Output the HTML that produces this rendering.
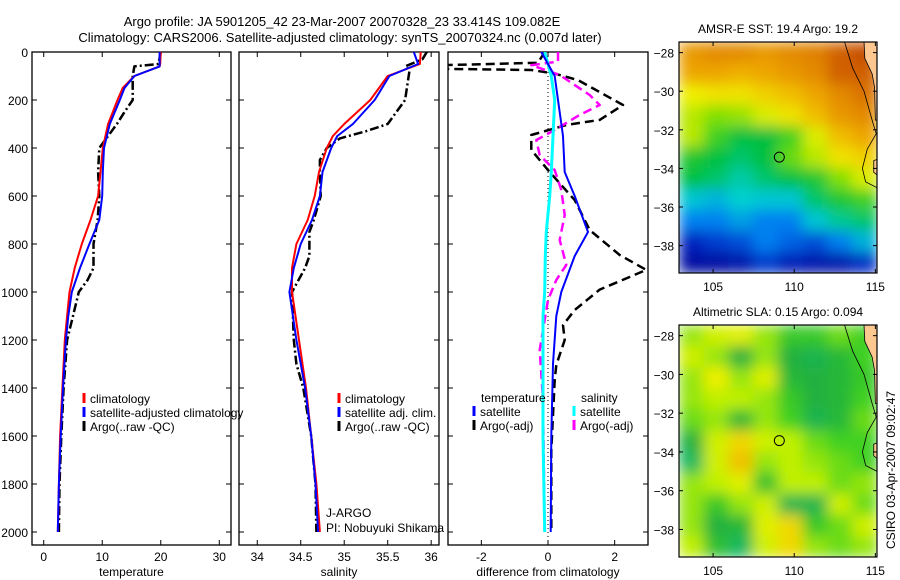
<!DOCTYPE html>
<html><head><meta charset="utf-8"><style>
body{margin:0;background:#fff}
svg{display:block;font-family:"Liberation Sans",sans-serif;font-size:12px}
</style></head><body>
<svg id="fig" width="900" height="580" viewBox="0 0 900 580">
<defs>
<filter id="blur" x="0" y="0" width="100%" height="100%"><feGaussianBlur stdDeviation="7" edgeMode="duplicate"/></filter>
<clipPath id="clipM1"><rect x="679" y="42" width="198" height="231"/></clipPath>
<clipPath id="clipM2"><rect x="679" y="325" width="198" height="232"/></clipPath>
<clipPath id="clipP3"><rect x="448" y="52" width="200" height="493"/></clipPath>
</defs>
<text x="342" y="26" text-anchor="middle" font-size="13">Argo profile: JA 5901205_42 23-Mar-2007 20070328_23 33.414S 109.082E</text>
<text x="340" y="42" text-anchor="middle" font-size="13">Climatology: CARS2006. Satellite-adjusted climatology: synTS_20070324.nc (0.007d later)</text>
<g id="layer"></g>
</svg>
<script>
// ---- data ----
const depthTicks=[0,200,400,600,800,1000,1200,1400,1600,1800,2000];
const tempTicks=[0,10,20,30];
const salTicks=[34,34.5,35,35.5,36];
const salTickLabels=["34","34.5","35","35.5","36"];
const diffTicks=[-2,0,2];

const tDepth=[0,50,60,100,150,200,300,400,500,600,700,800,900,1000,1100,1200,1400,1600,1800,2000];
const tClim=[20,19.9,19.8,15.5,13.5,12.6,11,10.1,9.7,9.3,8,6.5,5.3,4.4,4,3.6,3.2,2.8,2.6,2.4];
const tSat=[19.8,19.8,19.8,15.5,13.8,13.0,11.3,10.3,10.1,10,9.5,7.8,6.2,4.8,4.2,3.8,3.3,2.9,2.6,2.4];
const aDepth=[0,50,60,100,200,250,300,350,400,500,600,700,800,900,950,1000,1100,1200,1400,1600,1800,2000];
const tArgo=[20,19.6,15.5,15.2,15.2,13.8,12.5,11,9.5,9.3,9.5,9.2,8.5,8.5,7.5,6,5,4,3.4,3,2.7,2.6];

const sDepth=[0,50,100,200,300,350,400,500,600,700,800,900,1000,1200,1400,1600,1800,2000];
const sClim=[35.88,35.87,35.5,35.3,35.0,34.87,34.8,34.71,34.66,34.58,34.45,34.4,34.4,34.48,34.56,34.62,34.68,34.72];
const sSat=[35.8,35.85,35.52,35.35,35.1,34.92,34.85,34.75,34.72,34.63,34.5,34.42,34.37,34.45,34.55,34.62,34.67,34.7];
const saDepth=[0,30,60,80,200,300,330,360,400,450,500,600,700,750,850,900,1000,1200,1300,1400,1600,1800,2000];
const sArgo=[35.95,35.9,35.7,35.75,35.7,35.5,35.25,34.95,34.8,34.72,34.72,34.73,34.65,34.6,34.6,34.55,34.4,34.42,34.45,34.53,34.62,34.67,34.68];

const dDepth=[0,50,100,200,350,500,600,750,850,1000,1100,1300,1600,2000];
const dTempSat=[-0.2,0,0.2,0.3,0.45,0.5,0.8,1.2,0.8,0.4,0.25,0.15,0.1,0.08];
const dSalSat=[-0.1,0,0.1,0.2,0.15,0.1,0.05,-0.05,-0.08,-0.1,-0.15,-0.15,-0.15,-0.1];
const dtaDepth=[0,45,55,70,75,90,117,221,283,304,346,408,492,617,742,846,908,990,1075,1138,1200,1304,1367,1658,2000];
const dTempArgo=[-0.1,-0.3,-3.2,-3.2,-0.5,0.2,0.9,2.25,1.55,0.55,-0.5,-0.5,0,0.8,1.25,2.15,2.95,1.55,0.8,0.45,0.5,0.25,0.2,0.1,0.1];
const dsaDepth=[0,40,55,96,179,221,262,325,367,429,492,575,679,783,887,950,1033,1242,1450,2000];
const dSalArgo=[0.3,0.3,-0.5,0.35,1.25,1.55,0.95,0.2,-0.35,-0.25,0.2,0.4,0.5,0.35,0.55,0.25,0,-0.25,-0.15,-0.1];

const lonTicks=[105,110,115];
const latTicks=[-28,-30,-32,-34,-36,-38];
const sstGrid=[
[0.75,0.78,0.78,0.75,0.78,0.8,0.85,0.88],
[0.72,0.72,0.7,0.72,0.75,0.78,0.85,0.85],
[0.6,0.62,0.62,0.65,0.68,0.72,0.78,0.82],
[0.55,0.5,0.52,0.58,0.62,0.68,0.75,0.78],
[0.55,0.45,0.4,0.4,0.45,0.58,0.68,0.72],
[0.42,0.4,0.38,0.4,0.48,0.55,0.62,0.65],
[0.4,0.38,0.35,0.38,0.4,0.42,0.5,0.58],
[0.32,0.3,0.33,0.32,0.32,0.38,0.42,0.45],
[0.25,0.25,0.28,0.25,0.25,0.32,0.36,0.38],
[0.15,0.18,0.2,0.25,0.22,0.2,0.25,0.3],
[0.08,0.08,0.1,0.18,0.13,0.1,0.1,0.16]];
const slaGrid=[
[0.6,0.7,0.75,0.6,0.45,0.45,0.55,0.5],
[0.7,0.6,0.3,0.6,0.3,0.25,0.35,0.5],
[0.6,0.8,0.6,0.75,0.35,0.3,0.35,0.45],
[0.6,0.65,0.65,0.6,0.45,0.3,0.35,0.5],
[0.55,0.6,0.35,0.6,0.5,0.25,0.35,0.55],
[0.3,0.7,0.85,0.7,0.65,0.55,0.5,0.5],
[0.2,0.7,0.9,0.6,0.65,0.6,0.55,0.5],
[0.6,0.65,0.75,0.4,0.65,0.65,0.55,0.6],
[0.6,0.45,0.6,0.7,0.25,0.25,0.7,0.55],
[0.6,0.3,0.35,0.75,0.85,0.45,0.55,0.7],
[0.65,0.4,0.2,0.7,0.85,0.6,0.55,0.6]];
const argoLon=109.082, argoLat=-33.414;

// ---- helpers ----
const NS="http://www.w3.org/2000/svg";
const layer=document.getElementById('layer');
function mk(tag,attrs,parent){const e=document.createElementNS(NS,tag);for(const k in attrs)e.setAttribute(k,attrs[k]);(parent||layer).appendChild(e);return e;}
function txt(x,y,s,anchor,parent){const t=mk('text',{x:x,y:y,'text-anchor':anchor||'start'},parent);t.textContent=s;return t;}
const yD=d=>52+d*0.24;

function panel(name,x0,x1,xmin,xmax,ticks,labels,xlabel,showY){
  const sx=v=>x0+(v-xmin)/(xmax-xmin)*(x1-x0);
  const g=mk('g',{});
  
  
  const r=mk('rect',{x:x0,y:52,width:x1-x0,height:493,fill:'none',stroke:'#000','stroke-width':1.3},g);
  
  
  ticks.forEach((v,i)=>{
    const X=sx(v);
    mk('line',{x1:X,x2:X,y1:52,y2:57,stroke:'#000'},g);
    mk('line',{x1:X,x2:X,y1:545,y2:540,stroke:'#000'},g);
    const t=txt(X,561,labels[i],'middle',g);
    
    
  });
  depthTicks.forEach(d=>{
    mk('line',{x1:x0,x2:x0+5,y1:yD(d),y2:yD(d),stroke:'#000'},g);
    mk('line',{x1:x1,x2:x1-5,y1:yD(d),y2:yD(d),stroke:'#000'},g);
    if(showY){const t=txt(x0-4,yD(d)+5,String(d),'end',g);
      
      }
  });
  const xl=txt((x0+x1)/2,576,xlabel,'middle',g);
  
  
  return sx;
}
function line(sx,depths,vals,color,w,dash,name,clip){
  const pts=depths.map((d,i)=>sx(vals[i]).toFixed(1)+','+yD(d).toFixed(1)).join(' ');
  const a={points:pts,fill:'none',stroke:color,'stroke-width':w,'stroke-linejoin':'round'};
  if(dash)a['stroke-dasharray']=dash;
  if(clip)a['clip-path']='url(#'+clip+')';
  const p=mk('polyline',a);
  
  
}
function legend(x,y,color,label,name){
  const l=mk('line',{x1:x,x2:x,y1:y-10,y2:y,stroke:color,'stroke-width':3});
  
  
  const t=txt(x+6,y,label);
  
  
}

// Panel 1
const sx1=panel('temperature-panel',32,231,-2,32,tempTicks,tempTicks.map(String),'temperature',true);
line(sx1,aDepth,tArgo,'#000',2.5,'9,3,2,3','argo-temperature-line');
line(sx1,tDepth,tClim,'#f00',2,null,'climatology-temperature-line');
line(sx1,tDepth,tSat,'#00f',2,null,'satellite-temperature-line');
legend(84,403,'#f00','climatology','legend-climatology');
legend(84,417,'#00f','satellite-adjusted climatology','legend-satellite');
legend(84,431,'#000','Argo(..raw -QC)','legend-argo');

// Panel 2
const sx2=panel('salinity-panel',239,439,33.79,36.09,salTicks,salTickLabels,'salinity',false);
line(sx2,saDepth,sArgo,'#000',2.5,'9,3,2,3','argo-salinity-line');
line(sx2,sDepth,sClim,'#f00',2,null,'climatology-salinity-line');
line(sx2,sDepth,sSat,'#00f',2,null,'satellite-salinity-line');
legend(339,403,'#f00','climatology','legend-climatology-sal');
legend(339,417,'#00f','satellite adj. clim.','legend-satellite-sal');
legend(339,431,'#000','Argo(..raw -QC)','legend-argo-sal');
const j1=txt(326,517,'J-ARGO');
const j2=txt(326,532,'PI: Nobuyuki Shikama');

// Panel 3
const sx3=panel('difference-panel',448,648,-3,3,diffTicks,diffTicks.map(String),'difference from climatology',false);
const zl=mk('line',{x1:sx3(0),x2:sx3(0),y1:52,y2:545,stroke:'#000','stroke-dasharray':'1,3'});


line(sx3,dtaDepth,dTempArgo,'#000',2.5,'9,5','argo-temp-diff-line','clipP3');
line(sx3,dsaDepth,dSalArgo,'#f0f',2.5,'9,5','argo-sal-diff-line','clipP3');
line(sx3,dDepth,dSalSat,'#0ff',3,null,'satellite-sal-diff-line','clipP3');
line(sx3,dDepth,dTempSat,'#00f',2,null,'satellite-temp-diff-line','clipP3');
const lt=txt(481,402,'temperature');
const ls=txt(581,402,'salinity');
legend(474,416,'#00f','satellite','legend-temp-satellite');
legend(474,430,'#000','Argo(-adj)','legend-temp-argo');
legend(574,416,'#0ff','satellite','legend-sal-satellite');
legend(574,430,'#f0f','Argo(-adj)','legend-sal-argo');

// ---- maps ----
function cmap(stops,v){
  for(let i=1;i<stops.length;i++){if(v<=stops[i][0]){const a=stops[i-1],b=stops[i],t=(v-a[0])/(b[0]-a[0]);
    return 'rgb('+[0,1,2].map(k=>Math.round(a[1][k]+(b[1][k]-a[1][k])*t)).join(',')+')';}}
  const l=stops[stops.length-1][1];return 'rgb('+l.join(',')+')';
}
const sstStops=[[0,[0,0,128]],[0.15,[0,32,192]],[0.25,[0,128,240]],[0.33,[0,208,208]],[0.4,[0,192,64]],[0.5,[128,224,0]],[0.6,[240,240,0]],[0.7,[240,176,0]],[0.8,[224,128,0]],[0.9,[192,64,0]],[1,[160,0,0]]];
const slaStops=[[0,[0,200,160]],[0.3,[32,176,64]],[0.5,[64,208,32]],[0.65,[192,240,0]],[0.8,[240,240,0]],[0.9,[240,192,0]],[1,[240,144,0]]];

function map(name,x0,y0,w,h,grid,stops,title,clip){
  const lon=v=>x0+(v-102.9)/(115.1-102.9)*w;
  const lat=v=>y0+(-27.45-v)/(-27.45+39.42)*h;
  const g=mk('g',{'clip-path':'url(#'+clip+')'});
  
  
  const hg=mk('g',{filter:'url(#blur)'},g);
  const rows=grid.length,cols=grid[0].length;
  grid.forEach((row,r)=>row.forEach((v,c)=>{
    const cell=mk('rect',{x:x0+c*w/cols,y:y0+r*h/rows,width:w/cols+1,height:h/rows+1,fill:cmap(stops,v)},hg);
    
    
  }));
  const land=mk('path',{d:`M${lon(114.3)},${lat(-27.45)} L${lon(114.35)},${lat(-28.3)} L${lon(114.8)},${lat(-29.1)} L${lon(114.95)},${lat(-29.8)} L${lon(115.0)},${lat(-31.5)} L${lon(115.2)},${lat(-31.5)} L${lon(115.2)},${lat(-27.45)} Z M${lon(114.9)},${lat(-33.6)} L${lon(115.2)},${lat(-33.5)} L${lon(115.2)},${lat(-34.4)} L${lon(114.9)},${lat(-34.2)} Z`,fill:'#fcc890',stroke:'#000','stroke-width':0.8},g);
  
  
  const iso=mk('path',{d:`M${lon(113.1)},${lat(-27.45)} L${lon(113.6)},${lat(-28.8)} L${lon(114.3)},${lat(-30)} L${lon(114.8)},${lat(-31.5)} L${lon(115.05)},${lat(-32.2)} L${lon(114.5)},${lat(-33)} L${lon(114.2)},${lat(-34)} L${lon(114.4)},${lat(-34.7)} L${lon(115.1)},${lat(-35)}`,fill:'none',stroke:'#000','stroke-width':0.8},g);
  
  
  const c=mk('circle',{cx:lon(argoLon),cy:lat(argoLat),r:5,fill:'none',stroke:'#000','stroke-width':1});
  
  
  const fr=mk('rect',{x:x0,y:y0,width:w,height:h,fill:'none',stroke:'#000','stroke-width':1.2});
  
  
  lonTicks.forEach(v=>{const X=lon(v);
    mk('line',{x1:X,x2:X,y1:y0,y2:y0+4,stroke:'#000'});
    mk('line',{x1:X,x2:X,y1:y0+h,y2:y0+h-4,stroke:'#000'});
    const t=txt(X,y0+h+18,String(v),'middle');
    
    });
  latTicks.forEach(v=>{const Y=lat(v);
    mk('line',{x1:x0,x2:x0+4,y1:Y,y2:Y,stroke:'#000'});
    mk('line',{x1:x0+w,x2:x0+w-4,y1:Y,y2:Y,stroke:'#000'});
    const t=txt(x0-5,Y+5,String(v).replace('-','\u2212'),'end');
    
    });
  const tt=txt(x0+w/2,y0-9,title,'middle');
  
  
}
map('sst-map',679,42,198,231,sstGrid,sstStops,'AMSR-E SST: 19.4  Argo: 19.2','clipM1');
map('sla-map',679,325,198,232,slaGrid,slaStops,'Altimetric SLA: 0.15  Argo: 0.094','clipM2');
const cs=txt(0,0,'CSIRO 03-Apr-2007 09:02:47','middle');
cs.setAttribute('transform','translate(895,470) rotate(-90)');


</script>
</body></html>
